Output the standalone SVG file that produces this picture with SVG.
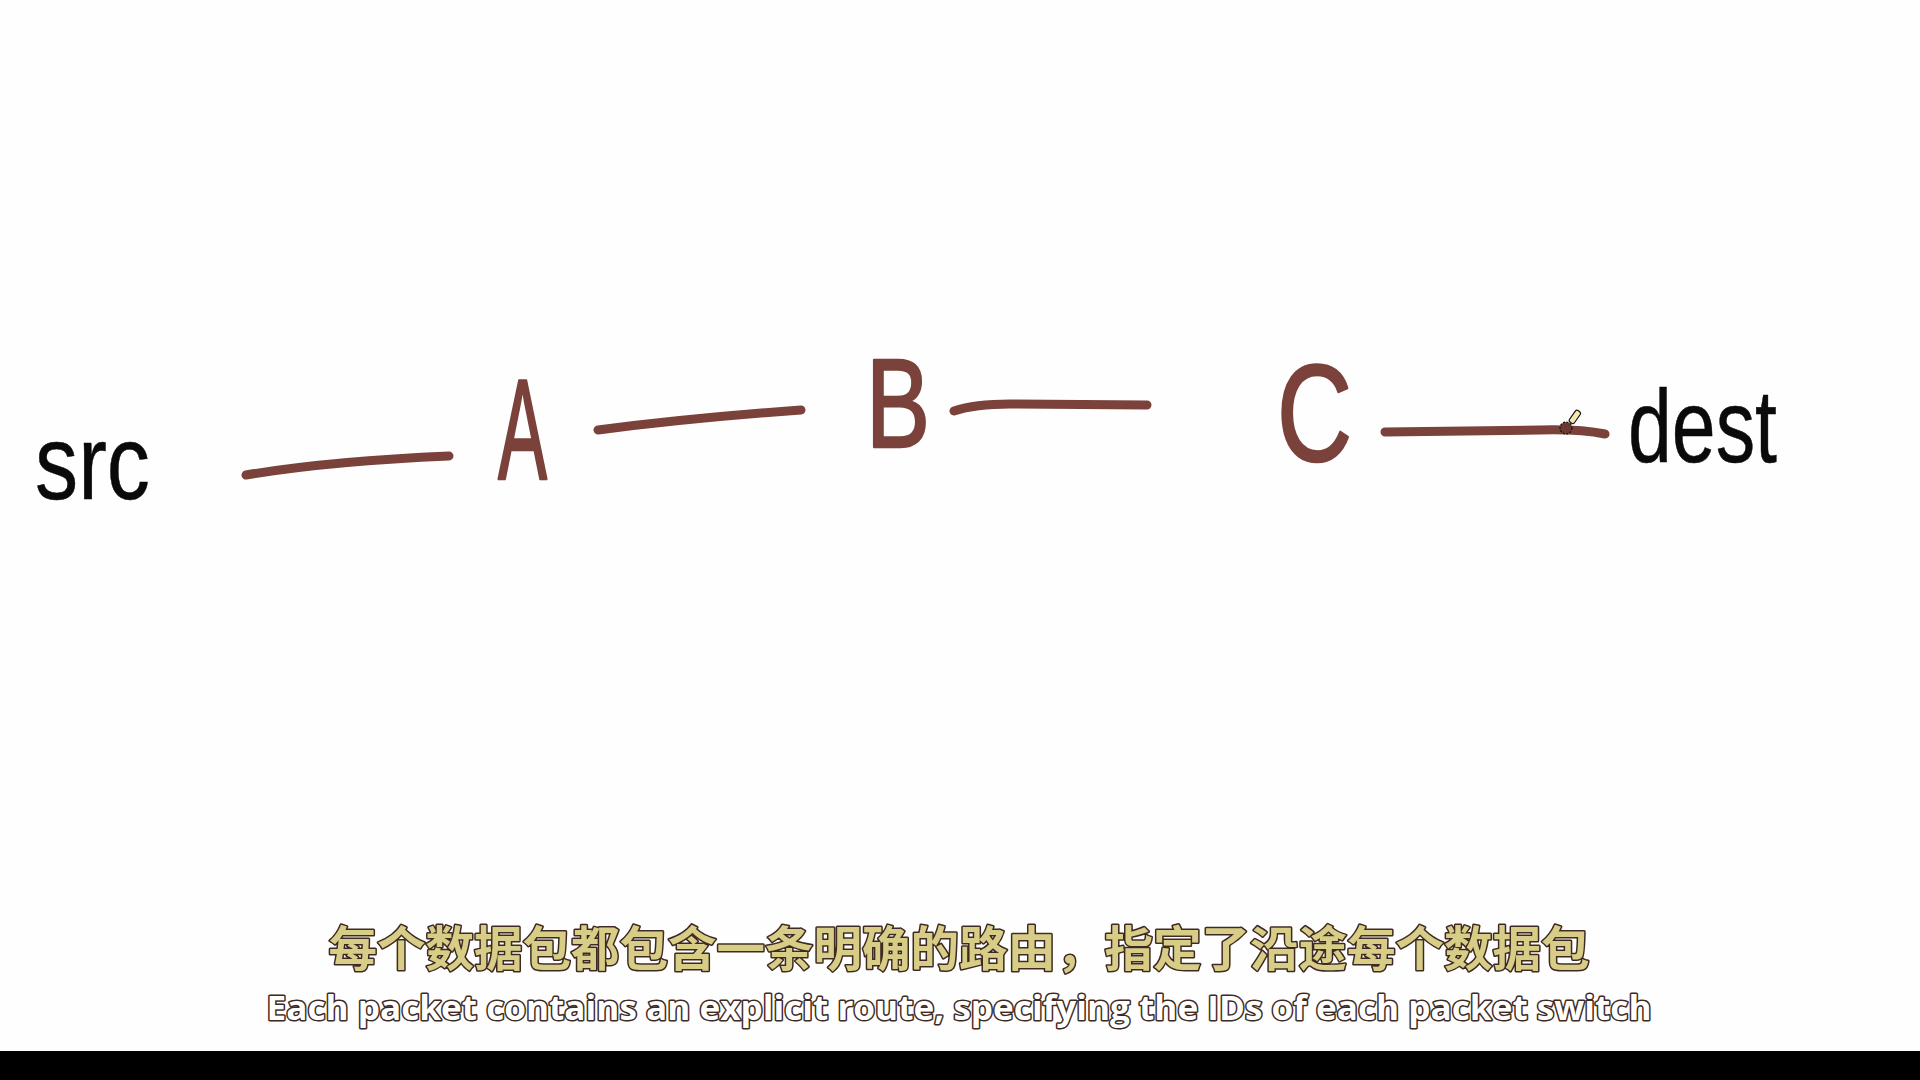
<svg xmlns="http://www.w3.org/2000/svg" width="1920" height="1080" viewBox="0 0 1920 1080">
  <style>
    .hand { font-family: "Liberation Sans", "DejaVu Sans", sans-serif; stroke-linejoin: round; }
    .brown { fill: #7A423A; stroke: #7A423A; stroke-width: 2.5; }
    .black { fill: #0A0A0A; stroke: #0A0A0A; stroke-width: 0.5; }
    .link { fill: none; stroke: #7A423A; stroke-width: 9; stroke-linecap: round; stroke-linejoin: round; }
    .cn { font-family: "Noto Sans CJK SC", "Noto Sans", sans-serif; font-weight: 700; font-size: 48px; fill: #D8CD86; stroke: #3E2A22; stroke-width: 3; paint-order: stroke; stroke-linejoin: round; }
    .en { font-family: "Open Sans", "Liberation Sans", sans-serif; font-weight: 700; font-size: 34px; fill: #FFFFFF; stroke: #3E2A22; stroke-width: 3; paint-order: stroke; stroke-linejoin: round; }
  </style>
  <rect x="0" y="0" width="1920" height="1080" fill="#FEFEFE"/>

  <g id="connectors">
    <path class="link" d="M246,475 Q330,461 449,456"/>
    <path class="link" d="M598,430 Q690,418 801,410"/>
    <path class="link" d="M954,411 Q975,404 1010,404 L1147,405"/>
    <path class="link" d="M1385,432 L1540,430 Q1580,429 1605,434"/>
  </g>

  <g id="node-src">
    <text class="hand black" x="35" y="499" font-size="106" textLength="115" lengthAdjust="spacingAndGlyphs">src</text>
  </g>
  <g id="node-A">
    <text class="hand brown" x="498" y="479" font-size="142" textLength="49" lengthAdjust="spacingAndGlyphs">A</text>
  </g>
  <g id="node-B">
    <text class="hand brown" x="866" y="447" font-size="127" textLength="64" lengthAdjust="spacingAndGlyphs">B</text>
  </g>
  <g id="node-C">
    <text class="hand brown" x="1277" y="461" font-size="138" textLength="75" lengthAdjust="spacingAndGlyphs">C</text>
  </g>
  <g id="node-dest">
    <text class="hand black" x="1628" y="462" font-size="103" textLength="149" lengthAdjust="spacingAndGlyphs">dest</text>
  </g>

  <g id="cursor">
    <rect x="-3" y="-12" width="6" height="14" rx="2" fill="#F3E9B0" stroke="#111" stroke-width="1.2" transform="translate(1572,421) rotate(35)"/>
    <circle cx="1566" cy="428" r="6" fill="#6A3A32" stroke="#111" stroke-width="1.2" stroke-dasharray="2 1.5"/>
  </g>

  <g id="subtitles">
    <text class="cn" x="959" y="966" text-anchor="middle" textLength="1261" lengthAdjust="spacingAndGlyphs">每个数据包都包含一条明确的路由，指定了沿途每个数据包</text>
    <text class="en" x="959" y="1020" text-anchor="middle" textLength="1385" lengthAdjust="spacingAndGlyphs">Each packet contains an explicit route, specifying the IDs of each packet switch</text>
  </g>

  <rect x="0" y="1051" width="1920" height="29" fill="#000000"/>
</svg>
